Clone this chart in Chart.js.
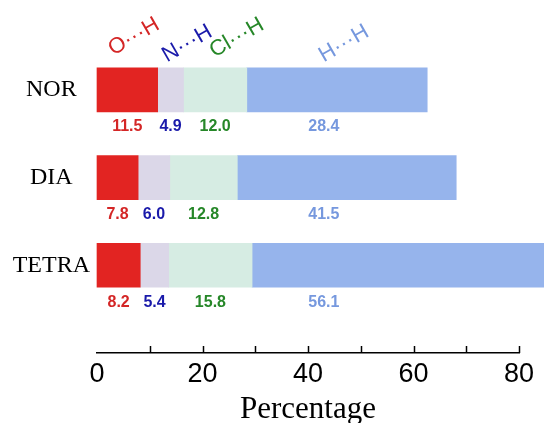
<!DOCTYPE html>
<html>
<head>
<meta charset="utf-8">
<script src="https://cdn.jsdelivr.net/npm/chart.js@4"></script>
<style>
html, body { margin: 0; padding: 0; background: #fff; }
</style>
</head>
<body>
<canvas id="contactChart" width="544" height="423"></canvas>
<script>
const categories = ['NOR', 'DIA', 'TETRA'];
const seriesNames = ['O···H', 'N···H', 'Cl···H', 'H···H'];
const ohValues = [11.5, 7.8, 8.2];
const nhValues = [4.9, 6.0, 5.4];
const clhValues = [12.0, 12.8, 15.8];
const hhValues = [28.4, 41.5, 56.1];
// in the figure the NOR H···H bar is drawn longer than its printed value
const hhBarValues = [34.2, 41.5, 56.1];
const xTicks = [0, 20, 40, 60, 80];

const labelValues = [ohValues, nhValues, clhValues, hhValues];
const barValues = [ohValues, nhValues, clhValues, hhBarValues];
const barColors = ['rgb(226,36,34)', 'rgb(219,215,232)', 'rgb(214,236,227)', 'rgb(150,180,236)'];
const textColors = ['rgb(212,38,38)', 'rgb(26,26,170)', 'rgb(38,135,40)', 'rgb(118,152,222)'];

// labels under the bars + rotated series names on top
const labelPlugin = {
    id: 'barLabels',
    afterDatasetsDraw(chart, args, opts) {
        const ctx = chart.ctx;
        const xs = chart.scales.x;
        ctx.save();
        ctx.textAlign = 'center';
        ctx.textBaseline = 'middle';
        ctx.font = 'bold 16px "Liberation Sans", Arial, sans-serif';
        labelValues.forEach((vals, d) => {
            const meta = chart.getDatasetMeta(d);
            meta.data.forEach((bar, i) => {
                const p = bar.getProps(['y', 'height'], true);
                let start = 0;
                for (let k = 0; k < d; k++) start += labelValues[k][i];
                const mid = d === 3 ? opts.hhLabelAt : start + vals[i] / 2;
                ctx.fillStyle = textColors[d];
                ctx.fillText(vals[i].toFixed(1), xs.getPixelForValue(mid), p.y + p.height / 2 + 15);
            });
        });

        // series names, rotated, over the first bar
        const first = chart.getDatasetMeta(0).data[0].getProps(['y', 'height'], true);
        const top = first.y - first.height / 2;
        ctx.font = '22px "Liberation Sans", Arial, sans-serif';
        seriesNames.forEach((name, d) => {
            ctx.save();
            ctx.translate(xs.getPixelForValue(opts.nameAt[d]), top + opts.nameDy[d]);
            ctx.rotate(-Math.PI / 6);
            ctx.fillStyle = textColors[d];
            ctx.fillText(name, 0, 0);
            ctx.restore();
        });
        ctx.restore();
    },
    afterDraw(chart) {
        // inward tick marks on the x axis
        const ctx = chart.ctx;
        const xs = chart.scales.x;
        const y0 = chart.chartArea.bottom;
        ctx.save();
        ctx.strokeStyle = '#000';
        ctx.lineWidth = 1.5;
        xs.ticks.forEach(t => {
            if (t.value <= 0) return;
            const x = Math.round(xs.getPixelForValue(t.value)) + 0.5;
            ctx.beginPath();
            ctx.moveTo(x, y0);
            ctx.lineTo(x, y0 - 7);
            ctx.stroke();
        });
        ctx.restore();
    }
};

const ctx = document.getElementById('contactChart').getContext('2d');
new Chart(ctx, {
    type: 'bar',
    data: {
        datasets: barValues.map((vals, d) => ({
            label: seriesNames[d],
            data: vals.map((v, i) => ({ x: v, y: i })),
            backgroundColor: barColors[d],
            borderWidth: 0,
            barThickness: 44,
            clip: false
        }))
    },
    options: {
        indexAxis: 'y',
        responsive: false,
        animation: false,
        devicePixelRatio: 1,
        layout: { padding: { top: 46, right: 25, left: 0, bottom: 0 } },
        plugins: {
            legend: { display: false },
            tooltip: { enabled: false },
            barLabels: {
                hhLabelAt: 43,
                nameAt: [7.0, 17.1, 26.5, 46.8],
                nameDy: [-31, -24, -30, -24]
            }
        },
        scales: {
            x: {
                type: 'linear',
                stacked: true,
                min: 0,
                max: 80,
                ticks: {
                    stepSize: 10,
                    autoSkip: false,
                    maxRotation: 0,
                    padding: 5,
                    color: '#000',
                    font: { family: '"Liberation Sans", Arial, sans-serif', size: 27 },
                    callback: v => xTicks.includes(v) ? String(v) : ''
                },
                grid: { display: false, drawTicks: false },
                border: { display: true, color: '#000', width: 1.5 },
                title: {
                    display: true,
                    text: 'Percentage',
                    color: '#000',
                    font: { family: '"Liberation Serif", "Times New Roman", serif', size: 31 },
                    padding: { top: 0, bottom: -5 }
                },
                afterFit: s => { s.height = 70; }
            },
            y: {
                type: 'linear',
                stacked: true,
                reverse: true,
                offset: false,
                min: -0.5,
                max: 3,
                afterBuildTicks: s => { s.ticks = categories.map((c, i) => ({ value: i })); },
                ticks: {
                    callback: v => categories[v] ?? '',
                    crossAlign: 'center',
                    padding: 7,
                    color: '#000',
                    font: { family: '"Liberation Serif", "Times New Roman", serif', size: 24 }
                },
                grid: { display: false, drawTicks: false },
                border: { display: false },
                afterFit: s => { s.width = 97; }
            }
        }
    },
    plugins: [labelPlugin]
});
</script>
</body>
</html>
